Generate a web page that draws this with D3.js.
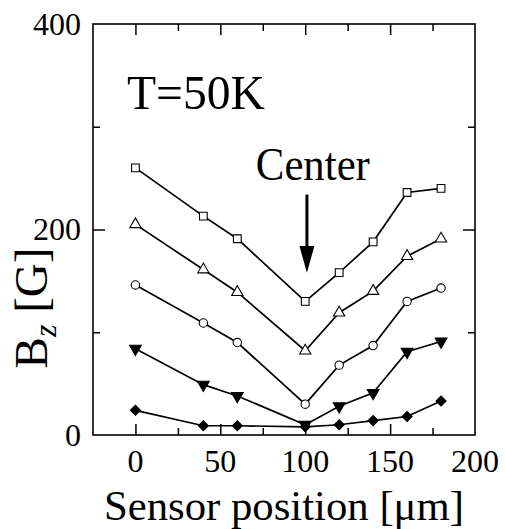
<!DOCTYPE html>
<html>
<head>
<meta charset="utf-8">
<script src="https://cdn.jsdelivr.net/npm/d3@7"></script>
<style>
  body { margin: 0; background: #fff; }
</style>
</head>
<body>
<div id="graphics-box"></div>
<script>
// DATA
const positions = [0, 40, 60, 100, 120, 140, 160, 180];
const squareVals = [260, 213, 191, 130, 158, 188, 236, 240];
const triangleVals = [205, 161, 139, 82, 119, 140, 174, 191];
const circleVals = [146, 109, 90, 30, 68, 87, 130, 143];
const downTriVals = [84, 49, 38, 10, 28, 41, 81, 91];
const diamondVals = [24, 9, 9, 8, 10, 14, 18, 33];

const xTickLabels = [0, 50, 100, 150, 200];
const xMinorTicks = [25, 75, 125, 175];
const yTickLabels = [0, 200, 400];
const yMinorTicks = [100, 300];

const w = 505;
const h = 529;
const serif = "'Liberation Serif', Tinos, 'Times New Roman', Times, 'Nimbus Roman', 'Nimbus Roman No9 L', FreeSerif, 'Noto Serif', 'DejaVu Serif', serif";

// SCALES
const xScale = d3.scaleLinear().domain([-25, 200]).range([93, 475]);
const yScale = d3.scaleLinear().domain([0, 400]).range([435, 24]);

const svg = d3.select("#graphics-box")
  .append("svg")
  .attr("width", w)
  .attr("height", h)
  .style("font-family", serif);

// FRAME
svg.append("rect")
  .attr("x", xScale(-25))
  .attr("y", yScale(400))
  .attr("width", xScale(200) - xScale(-25))
  .attr("height", yScale(0) - yScale(400))
  .attr("fill", "none")
  .attr("stroke", "#000")
  .attr("stroke-width", 1.6);

// AXES (TICKS POINT INWARD, MIRRORED ON TOP AND RIGHT)
function addAxis(axis, transform, ticks, size) {
  svg.append("g")
    .attr("transform", transform)
    .call(axis.tickValues(ticks).tickSizeInner(-size).tickSizeOuter(0).tickFormat(""))
    .call((g) => g.select(".domain").remove())
    .call((g) => g.selectAll("line").attr("stroke-width", 1.5));
}
const xMajor = [0, 50, 100, 150];
addAxis(d3.axisBottom(xScale), "translate(0," + yScale(0) + ")", xMajor, 11);
addAxis(d3.axisBottom(xScale), "translate(0," + yScale(0) + ")", xMinorTicks, 7);
addAxis(d3.axisTop(xScale), "translate(0," + yScale(400) + ")", xMajor, 11);
addAxis(d3.axisTop(xScale), "translate(0," + yScale(400) + ")", xMinorTicks, 7);
addAxis(d3.axisLeft(yScale), "translate(" + xScale(-25) + ",0)", [200], 12);
addAxis(d3.axisLeft(yScale), "translate(" + xScale(-25) + ",0)", yMinorTicks, 7);
addAxis(d3.axisRight(yScale), "translate(" + xScale(200) + ",0)", [200], 12);
addAxis(d3.axisRight(yScale), "translate(" + xScale(200) + ",0)", yMinorTicks, 7);

// TICK LABELS
svg.append("g").selectAll("text")
  .data(xTickLabels)
  .enter()
  .append("text")
  .attr("x", (d) => xScale(d))
  .attr("y", 472)
  .attr("text-anchor", "middle")
  .style("font-size", "32px")
  .text((d) => d);

svg.append("g").selectAll("text")
  .data(yTickLabels)
  .enter()
  .append("text")
  .attr("x", 81)
  .attr("y", (d) => yScale(d) + 10.5)
  .attr("text-anchor", "end")
  .style("font-size", "32px")
  .text((d) => d);

// AXIS TITLES
svg.append("text")
  .attr("x", 284)
  .attr("y", 520)
  .attr("text-anchor", "middle")
  .attr("textLength", 360)
  .attr("lengthAdjust", "spacingAndGlyphs")
  .style("font-size", "42px")
  .text("Sensor position [\u03bcm]");

const yTitle = svg.append("text")
  .attr("transform", "translate(47,308) rotate(-90)")
  .attr("text-anchor", "middle")
  .style("font-size", "47px");
yTitle.append("tspan").text("B");
yTitle.append("tspan").attr("dy", 9).style("font-size", "32px").style("font-style", "italic").text("z");
yTitle.append("tspan").attr("dy", -9).text(" [G]");

// LINES AND MARKERS
const series = [
  { vals: squareVals, symbol: d3.symbolSquare, size: 60, fill: "#fff", rot: 0 },
  { vals: triangleVals, symbol: d3.symbolTriangle, size: 55, fill: "#fff", rot: 0 },
  { vals: circleVals, symbol: d3.symbolCircle, size: 55, fill: "#fff", rot: 0 },
  { vals: downTriVals, symbol: d3.symbolTriangle, size: 60, fill: "#000", rot: 180 },
  { vals: diamondVals, symbol: d3.symbolSquare, size: 50, fill: "#000", rot: 45 }
];

const line = d3.line()
  .x((d) => xScale(d[0]))
  .y((d) => yScale(d[1]));

series.forEach((s) => {
  const pts = positions.map((p, i) => [p, s.vals[i]]);
  svg.append("path")
    .datum(pts)
    .attr("d", line)
    .attr("fill", "none")
    .attr("stroke", "#000")
    .attr("stroke-width", 1.7);
  svg.append("g").selectAll("path")
    .data(pts)
    .enter()
    .append("path")
    .attr("d", d3.symbol().type(s.symbol).size(s.size))
    .attr("transform", (d) => "translate(" + xScale(d[0]) + "," + yScale(d[1]) + ") rotate(" + s.rot + ")")
    .attr("fill", s.fill)
    .attr("stroke", "#000")
    .attr("stroke-width", 1.1);
});

// ANNOTATIONS
svg.append("text")
  .attr("x", xScale(-5))
  .attr("y", yScale(317))
  .attr("textLength", 138)
  .attr("lengthAdjust", "spacingAndGlyphs")
  .style("font-size", "49px")
  .text("T=50K");

svg.append("text")
  .attr("x", xScale(104.5))
  .attr("y", yScale(248))
  .attr("text-anchor", "middle")
  .attr("textLength", 114)
  .attr("lengthAdjust", "spacingAndGlyphs")
  .style("font-size", "47px")
  .text("Center");

// ARROW POINTING AT THE CENTER
const ax = xScale(101);
svg.append("line")
  .attr("x1", ax).attr("x2", ax)
  .attr("y1", yScale(234)).attr("y2", yScale(182))
  .attr("stroke", "#000")
  .attr("stroke-width", 3);
svg.append("path")
  .attr("d", "M" + (ax - 7.5) + "," + yScale(184) + "L" + (ax + 7.5) + "," + yScale(184) + "L" + ax + "," + yScale(158) + "Z")
  .attr("fill", "#000");
</script>
</body>
</html>
